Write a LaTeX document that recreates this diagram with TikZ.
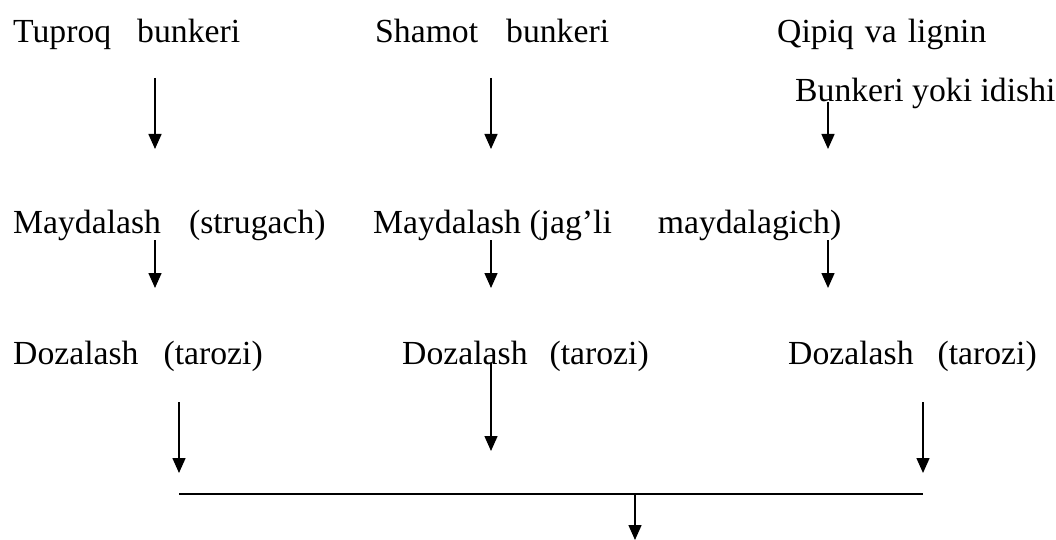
\documentclass[tikz,border=0pt]{standalone}
\usepackage{fontspec}
\setmainfont{Liberation Serif}
\usetikzlibrary{arrows.meta}
\tikzset{
    lbl/.style={anchor=base west, inner sep=0pt, font=\fontsize{33.7}{40}\selectfont},
    arr/.style={-{Triangle[length=15pt,width=13pt]}, line width=1.5pt},
}
\newcommand{\gap}[1]{\hspace{#1pt}}
\begin{document}
\begin{tikzpicture}[x=1pt,y=-1pt]
        \useasboundingbox (0,0) rectangle (1056,540);
        %labels
        \node[lbl] (tuproq) at (13,43) {Tuproq\gap{26}bunkeri};
        \node[lbl] (shamot) at (375,43) {Shamot\gap{28}bunkeri};
        \node[lbl] (qipiq) at (777,43) {Qipiq\gap{11}va\gap{11}lignin};
        \node[lbl] (idish) at (795,102) {Bunkeri yoki idishi};
        \node[lbl] (mayd1) at (13,233) {Maydalash\gap{28}(strugach)};
        \node[lbl] (mayd2) at (373,233) {Maydalash (jag’li\gap{46}maydalagich)};
        \node[lbl] (doz1) at (13,364) {Dozalash\gap{25}(tarozi)};
        \node[lbl] (doz2) at (402,364) {Dozalash\gap{22}(tarozi)};
        \node[lbl] (doz3) at (788,364) {Dozalash\gap{24}(tarozi)};
        %arrow ends
        \coordinate (b1) at (155,78);  \coordinate (c1) at (155,149);
        \coordinate (b2) at (491,78);  \coordinate (c2) at (491,149);
        \coordinate (b3) at (828,102); \coordinate (c3) at (828,149);
        \coordinate (m1) at (155,240); \coordinate (n1) at (155,288);
        \coordinate (m2) at (491,240); \coordinate (n2) at (491,288);
        \coordinate (m3) at (828,240); \coordinate (n3) at (828,288);
        \coordinate (d1) at (179,402); \coordinate (e1) at (179,473);
        \coordinate (d2) at (491,363); \coordinate (e2) at (491,451);
        \coordinate (d3) at (923,402); \coordinate (e3) at (923,473);
        \coordinate (left) at (179,494);
        \coordinate (right) at (923,494);
        \coordinate (mid) at (635,494);
        \coordinate (out) at (635,540);
        %arrows
        \foreach \n in {1,2,3} {
            \draw[arr] (b\n) -- (c\n);
            \draw[arr] (m\n) -- (n\n);
            \draw[arr] (d\n) -- (e\n);
        }
        \draw[line width=1.5pt] (left) -- (right);
        \draw[arr] (mid) -- (out);
    \end{tikzpicture}
\end{document}
